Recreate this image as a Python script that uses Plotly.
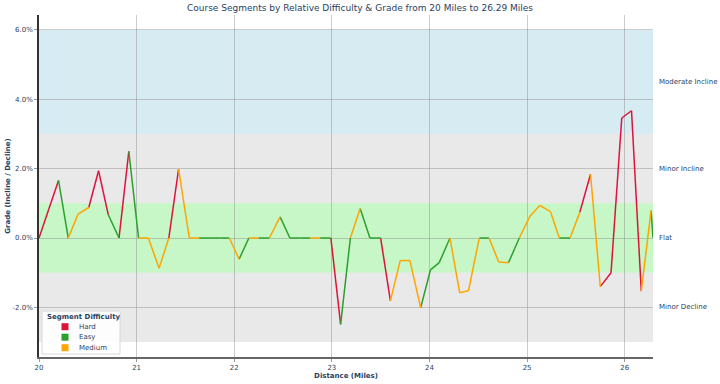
import plotly.graph_objects as go

distance = [20.00, 20.10, 20.20, 20.30, 20.40, 20.51, 20.61, 20.71, 20.82, 20.92,
            21.02, 21.12, 21.23, 21.33, 21.43, 21.54, 21.64, 21.74, 21.85, 21.95,
            22.05, 22.15, 22.25, 22.36, 22.47, 22.57, 22.67, 22.78, 22.88, 22.99,
            23.09, 23.19, 23.29, 23.39, 23.50, 23.60, 23.70, 23.80, 23.91, 24.01,
            24.10, 24.21, 24.31, 24.40, 24.51, 24.61, 24.71, 24.81, 24.92, 25.03,
            25.13, 25.24, 25.33, 25.44, 25.54, 25.65, 25.75, 25.86, 25.97, 26.07,
            26.17, 26.27, 26.29]

grade = [0.0, 0.83, 1.66, 0.0, 0.69, 0.88, 1.94, 0.67, 0.0, 2.50,
         0.0, 0.0, -0.87, 0.0, 1.99, 0.0, 0.0, 0.0, 0.0, 0.0,
         -0.61, 0.0, 0.0, 0.0, 0.61, 0.0, 0.0, 0.0, 0.0, 0.0,
         -2.49, 0.0, 0.85, 0.0, 0.0, -1.81, -0.65, -0.65, -2.01, -0.92,
         -0.71, 0.0, -1.58, -1.52, 0.0, 0.0, -0.69, -0.71, 0.0, 0.63,
         0.94, 0.76, 0.0, 0.0, 0.74, 1.84, -1.40, -1.00, 3.46, 3.67,
         -1.53, 0.79, 0.0]

# difficulty of each segment (from point i to point i+1)
segment_difficulty = [
    "Hard", "Hard", "Easy", "Medium", "Medium", "Hard", "Hard", "Easy", "Hard", "Easy",
    "Medium", "Medium", "Medium", "Hard", "Medium", "Medium", "Easy", "Easy", "Easy", "Medium",
    "Easy", "Medium", "Easy", "Medium", "Easy", "Easy", "Easy", "Medium", "Easy", "Hard",
    "Easy", "Medium", "Easy", "Easy", "Hard", "Medium", "Medium", "Medium", "Easy", "Easy",
    "Easy", "Medium", "Medium", "Medium", "Easy", "Medium", "Medium", "Easy", "Medium", "Medium",
    "Medium", "Medium", "Easy", "Medium", "Hard", "Medium", "Hard", "Hard", "Hard", "Hard",
    "Medium", "Easy"]

difficulties = ["Hard", "Easy", "Medium"]
colors = {"Hard": "#DC143C", "Easy": "#2CA02C", "Medium": "#FFA500"}

y_tick_vals = [6, 4, 2, 0, -2]
y_tick_text = ["6.0%", "4.0%", "2.0%", "0.0%", "-2.0%"]
x_tick_vals = [20, 21, 22, 23, 24, 25, 26]

zones = [("Moderate Incline", 3, 6, "rgba(173,216,230,0.5)", 4.5),
         ("Minor Incline", 1, 3, "rgba(211,211,211,0.5)", 2.0),
         ("Flat", -1, 1, "rgba(144,238,144,0.5)", 0.0),
         ("Minor Decline", -3, -1, "rgba(211,211,211,0.5)", -2.0)]

font_family = "DejaVu Sans"
text_color = "#2a3f5f"

W, H = 720, 384
ML, MR, MT, MB = 39, 67, 15, 27
PW, PH = W - ML - MR, H - MT - MB


def px_x(p):  # pixel column -> paper x
    return (p - ML) / PW


def px_y(p):  # pixel row -> paper y
    return (H - MB - p) / PH


fig = go.Figure()

for d in difficulties:
    xs, ys = [], []
    for i, sd in enumerate(segment_difficulty):
        if sd == d:
            xs += [distance[i], distance[i + 1], None]
            ys += [grade[i], grade[i + 1], None]
    fig.add_trace(go.Scatter(x=xs, y=ys, mode="lines", name=d,
                             line=dict(color=colors[d], width=1.5),
                             showlegend=False))

for name, y0, y1, col, ylab in zones:
    fig.add_shape(type="rect", xref="paper", x0=0, x1=1, yref="y", y0=y0, y1=y1,
                  fillcolor=col, line_width=0, layer="below")
    fig.add_annotation(text=name, xref="paper", x=1.006, xanchor="left", yref="y", y=ylab,
                       showarrow=False, font=dict(size=7, color=text_color, family=font_family))

# compact legend box (drawn as shapes + text)
fig.add_shape(type="rect", xref="paper", yref="paper",
              x0=px_x(42), x1=px_x(120), y0=px_y(354), y1=px_y(311),
              fillcolor="rgba(255,255,255,0.9)", line=dict(color="#d8d8d8", width=1), layer="above")
fig.add_annotation(text="<b>Segment Difficulty</b>", xref="paper", yref="paper",
                   x=px_x(45), y=px_y(317), xanchor="left", yanchor="middle", showarrow=False,
                   font=dict(size=7, color=text_color, family=font_family))
legend_rows = [326.7, 337.2, 347.7]
for d, row in zip(difficulties, legend_rows):
    fig.add_shape(type="rect", xref="paper", yref="paper",
                  x0=px_x(61.5), x1=px_x(68.5), y0=px_y(row + 3.5), y1=px_y(row - 3.5),
                  fillcolor=colors[d], line_width=0, layer="above")
    fig.add_annotation(text=d, xref="paper", yref="paper",
                       x=px_x(77), y=px_y(row), xanchor="left", yanchor="middle", showarrow=False,
                       font=dict(size=7, color=text_color, family=font_family))

fig.update_layout(
    width=W, height=H,
    template="plotly_white",
    font=dict(family=font_family, size=7, color=text_color),
    margin=dict(l=ML, r=MR, t=MT, b=MB, autoexpand=False),
    title=dict(text="Course Segments by Relative Difficulty & Grade from 20 Miles to 26.29 Miles",
               x=0.5, xref="container", xanchor="center", y=1 - 8 / H, yref="container",
               yanchor="middle", font=dict(size=9, color=text_color, family=font_family)),
    plot_bgcolor="white",
    showlegend=False,
)
fig.update_xaxes(range=[20, 26.29], tickvals=x_tick_vals, automargin=False,
                 title=dict(text="<b>Distance (Miles)</b>", font=dict(size=7), standoff=2),
                 showgrid=True, gridcolor="rgba(140,140,140,0.45)", gridwidth=1,
                 showline=True, linecolor="#666", linewidth=2, zeroline=False,
                 ticks="outside", ticklen=3, tickcolor="#999", tickfont=dict(size=7))
fig.update_yaxes(range=[-3.43, 6.43], tickvals=y_tick_vals, ticktext=y_tick_text, automargin=False,
                 title=dict(text="<b>Grade (Incline / Decline)</b>", font=dict(size=7), standoff=1),
                 showgrid=True, gridcolor="rgba(140,140,140,0.45)", gridwidth=1,
                 showline=True, linecolor="#333", linewidth=1.5, zeroline=False,
                 ticks="outside", ticklen=3, tickcolor="#999", tickfont=dict(size=7))

fig.write_html("out.html", config={"displayModeBar": False},
               post_script="document.body.style.margin='0px';")
